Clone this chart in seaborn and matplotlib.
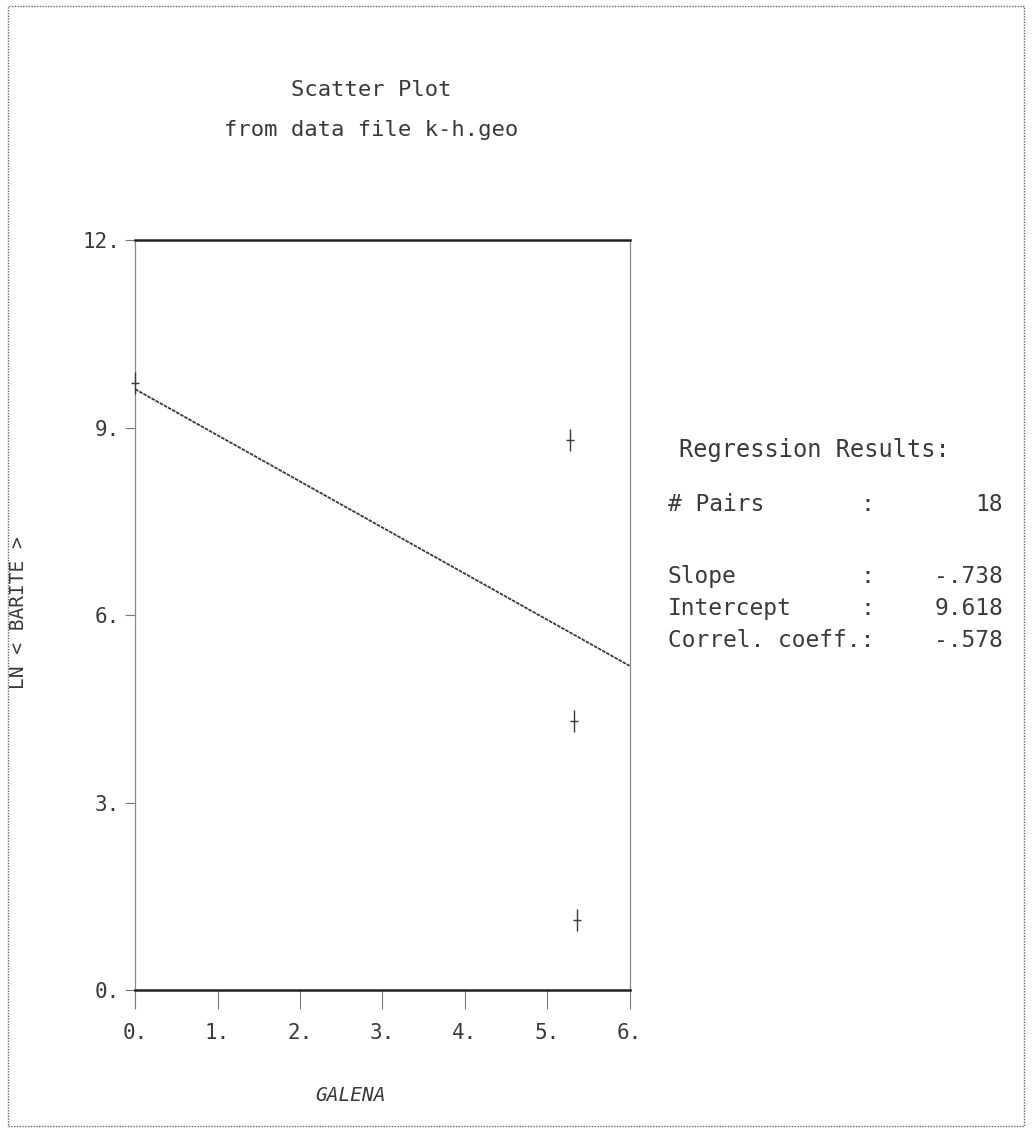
import numpy as np
import pandas as pd
import matplotlib
matplotlib.use("Agg")
import matplotlib.pyplot as plt
import seaborn as sns
from matplotlib.patches import Rectangle
from matplotlib.path import Path

# data (many pairs overlap)
galena = [0.0, 5.28, 5.33, 5.36]
ln_barite = [9.72, 8.80, 4.30, 1.12]
slope = -0.738
intercept = 9.618
n_pairs = 18
correl = -0.578
x_ticks = [0, 1, 2, 3, 4, 5, 6]
y_ticks = [0, 3, 6, 9, 12]

sns.set_style("white")
plt.rcParams['font.family'] = ['DejaVu Sans Mono']
ink = '#3a3a3a'

# tall narrow plus, like the printer's glyph
plus = Path([(-0.35, 0), (0.35, 0), (0, -1), (0, 1)],
            [Path.MOVETO, Path.LINETO, Path.MOVETO, Path.LINETO])

fig = plt.figure(figsize=(10.32, 11.34), dpi=100)
ax = fig.add_axes([0.131, 0.127, 0.479, 0.661])

df = pd.DataFrame({'x': galena, 'y': ln_barite})
sns.scatterplot(data=df, x='x', y='y', marker=plus, s=260, color=ink, edgecolor=ink,
                linewidth=1.0, ax=ax, zorder=3, clip_on=False)

fit = pd.DataFrame({'x': [0.0, 6.0]})
fit['y'] = intercept + slope * fit['x']
sns.lineplot(data=fit, x='x', y='y', color=ink, linewidth=1.3, linestyle=(0, (2, 0.6)), ax=ax)

ax.set_xlim(0, 6)
ax.set_ylim(0, 12)
ax.set_xticks(x_ticks)
ax.set_xticklabels([f"{t}." for t in x_ticks])
ax.set_yticks(y_ticks)
ax.set_yticklabels([f"{t}." for t in y_ticks])
ax.tick_params(axis='x', direction='out', length=14, width=0.8, color='#777777',
               labelsize=15, labelcolor=ink, pad=10, bottom=True)
ax.tick_params(axis='y', direction='out', length=7, width=0.8, color='#777777',
               labelsize=15, labelcolor=ink, pad=4, left=True)
ax.set_xlabel('')
ax.set_ylabel('')
fig.text(0.34, 0.034, 'GALENA', ha='center', va='center', fontsize=14, color=ink, style='italic')
fig.text(0.018, 0.46, 'LN < BARITE >', ha='center', va='center', rotation=90, fontsize=14, color=ink)

for side in ['top', 'bottom']:
    ax.spines[side].set_visible(True)
    ax.spines[side].set_color('#222222')
    ax.spines[side].set_linewidth(1.8)
for side in ['left', 'right']:
    ax.spines[side].set_visible(True)
    ax.spines[side].set_color('#888888')
    ax.spines[side].set_linewidth(0.9)
    ax.spines[side].set_linestyle((0, (1, 1)))

fig.text(0.36, 0.921, 'Scatter Plot', ha='center', va='center', fontsize=16, color=ink)
fig.text(0.36, 0.885, 'from data file k-h.geo', ha='center', va='center', fontsize=16, color=ink)

fig.text(0.658, 0.603, 'Regression Results:', ha='left', va='center', fontsize=17, color=ink)
rows = [('# Pairs', ':', f"{n_pairs}", 0.555),
        ('Slope', ':', f"{slope:.3f}".replace('0.', '.'), 0.492),
        ('Intercept', ':', f"{intercept:.3f}", 0.463),
        ('Correl. coeff.:', '', f"{correl:.3f}".replace('0.', '.'), 0.435)]
for label, colon, val, yy in rows:
    fig.text(0.647, yy, label, ha='left', va='center', fontsize=16.5, color=ink)
    if colon:
        fig.text(0.834, yy, colon, ha='left', va='center', fontsize=16.5, color=ink)
    fig.text(0.972, yy, val, ha='right', va='center', fontsize=16.5, color=ink)

fig.add_artist(Rectangle((0.008, 0.007), 0.984, 0.988, transform=fig.transFigure,
                         fill=False, edgecolor='#666666', linewidth=1.0, linestyle=(0, (1, 1))))

fig.savefig('out.png', dpi=100)
